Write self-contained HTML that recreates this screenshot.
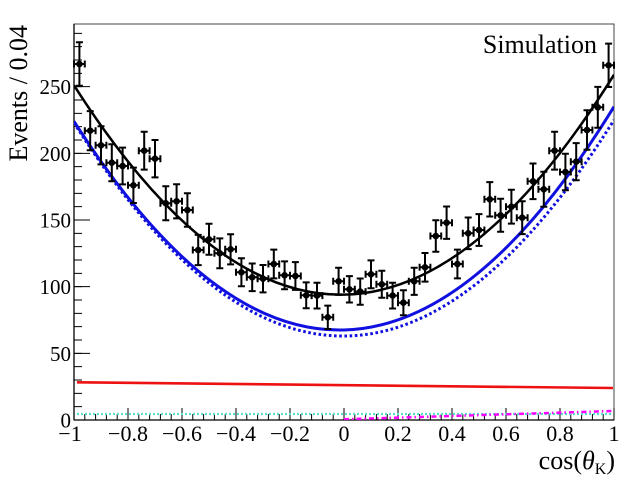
<!DOCTYPE html>
<html><head><meta charset="utf-8"><style>
html,body{margin:0;padding:0;background:#fff;}
svg{display:block;}
text{font-family:"Liberation Serif","Times New Roman",serif;fill:#000;}
</style></head><body>
<svg width="640" height="480" viewBox="0 0 640 480" xmlns="http://www.w3.org/2000/svg">
<rect width="640" height="480" fill="#fff"/>
<defs>
<clipPath id="fr"><rect x="74" y="24" width="540" height="396"/></clipPath>
<g id="m"><path d="M-5.4 0H5.4M-5.4-3.5V3.5M5.4-3.5V3.5"/><circle r="2.3"/></g>
</defs>
<rect x="74" y="24" width="540" height="396" fill="none" stroke="#444" stroke-width="1"/>
<line x1="74" y1="420" x2="614" y2="420" stroke="#000" stroke-width="1.3"/>
<line x1="74" y1="24" x2="74" y2="420" stroke="#000" stroke-width="1.3"/>
<line x1="73.5" y1="417" x2="615" y2="417" stroke="#000" stroke-width="6" stroke-dasharray="1 9.8"/>
<line x1="73.5" y1="414" x2="615" y2="414" stroke="#000" stroke-width="12" stroke-dasharray="1 53"/>
<line x1="78" y1="420.5" x2="78" y2="30" stroke="#000" stroke-width="8" stroke-dasharray="1 12.3333"/>
<line x1="82" y1="420.5" x2="82" y2="30" stroke="#000" stroke-width="16" stroke-dasharray="1 65.6667"/>
<g font-size="21" text-anchor="end">
<text x="71" y="427.5">0</text>
<text x="71" y="360.8">50</text>
<text x="71" y="294.2">100</text>
<text x="71" y="227.5">150</text>
<text x="71" y="160.8">200</text>
<text x="71" y="94.2">250</text>
</g>
<g font-size="22" text-anchor="middle">
<text x="70" y="441">−1</text>
<text x="128" y="441">−0.8</text>
<text x="182" y="441">−0.6</text>
<text x="236" y="441">−0.4</text>
<text x="290" y="441">−0.2</text>
<text x="344" y="441">0</text>
<text x="398" y="441">0.2</text>
<text x="452" y="441">0.4</text>
<text x="506" y="441">0.6</text>
<text x="560" y="441">0.8</text>
<text x="614" y="441">1</text>
</g>
<text transform="translate(27,25) rotate(-90)" text-anchor="end" font-size="26">Events / 0.04</text>
<text x="615" y="469" text-anchor="end" font-size="26">cos(<tspan font-style="italic">θ</tspan><tspan font-size="16" dy="5">K</tspan><tspan dy="-5">)</tspan></text>
<text x="597" y="53" text-anchor="end" font-size="26">Simulation</text>
<g clip-path="url(#fr)" fill="none">
<line x1="77" y1="414" x2="613" y2="414" stroke="#55e0cc" stroke-width="2.2" stroke-dasharray="2 2"/>
<line x1="344" y1="419.3" x2="613" y2="411" stroke="#ff00ff" stroke-width="2.5" stroke-dasharray="5 3 1.5 3"/>
<line x1="77" y1="382.3" x2="613" y2="388" stroke="#ee1111" stroke-width="2.6"/>
<path d="M74 122.7Q344 550.7 614 120" stroke="#1010e0" stroke-width="3" stroke-dasharray="2.6 2.6"/>
<path d="M74 121.3Q344 546 614 106.7" stroke="#1010e0" stroke-width="3"/>
<path d="M74 85.3Q344 509.3 614 74.7" stroke="#000" stroke-width="2.5"/>
</g>
<g stroke="#000" stroke-width="2" fill="#000">
<g transform="translate(79.4,64)"><path d="M0-21.8V21.8M-3.5-21.8H3.5M-3.5 21.8H3.5"/><use href="#m"/></g>
<g transform="translate(90.2,130.7)"><path d="M0-19.6V19.6M-3.5-19.6H3.5M-3.5 19.6H3.5"/><use href="#m"/></g>
<g transform="translate(101,145.3)"><path d="M0-19.1V19.1M-3.5-19.1H3.5M-3.5 19.1H3.5"/><use href="#m"/></g>
<g transform="translate(111.8,162.7)"><path d="M0-18.5V18.5M-3.5-18.5H3.5M-3.5 18.5H3.5"/><use href="#m"/></g>
<g transform="translate(122.6,166)"><path d="M0-18.4V18.4M-3.5-18.4H3.5M-3.5 18.4H3.5"/><use href="#m"/></g>
<g transform="translate(133.4,185.3)"><path d="M0-17.7V17.7M-3.5-17.7H3.5M-3.5 17.7H3.5"/><use href="#m"/></g>
<g transform="translate(144.2,150.7)"><path d="M0-18.9V18.9M-3.5-18.9H3.5M-3.5 18.9H3.5"/><use href="#m"/></g>
<g transform="translate(155,158.7)"><path d="M0-18.7V18.7M-3.5-18.7H3.5M-3.5 18.7H3.5"/><use href="#m"/></g>
<g transform="translate(165.8,203.3)"><path d="M0-17V17M-3.5-17H3.5M-3.5 17H3.5"/><use href="#m"/></g>
<g transform="translate(176.6,201.3)"><path d="M0-17.1V17.1M-3.5-17.1H3.5M-3.5 17.1H3.5"/><use href="#m"/></g>
<g transform="translate(187.4,210)"><path d="M0-16.7V16.7M-3.5-16.7H3.5M-3.5 16.7H3.5"/><use href="#m"/></g>
<g transform="translate(198.2,250)"><path d="M0-15.1V15.1M-3.5-15.1H3.5M-3.5 15.1H3.5"/><use href="#m"/></g>
<g transform="translate(209,239.3)"><path d="M0-15.5V15.5M-3.5-15.5H3.5M-3.5 15.5H3.5"/><use href="#m"/></g>
<g transform="translate(219.8,253.3)"><path d="M0-14.9V14.9M-3.5-14.9H3.5M-3.5 14.9H3.5"/><use href="#m"/></g>
<g transform="translate(230.6,249.3)"><path d="M0-15.1V15.1M-3.5-15.1H3.5M-3.5 15.1H3.5"/><use href="#m"/></g>
<g transform="translate(241.4,272.3)"><path d="M0-14V14M-3.5-14H3.5M-3.5 14H3.5"/><use href="#m"/></g>
<g transform="translate(252.2,277.3)"><path d="M0-13.8V13.8M-3.5-13.8H3.5M-3.5 13.8H3.5"/><use href="#m"/></g>
<g transform="translate(263,278.7)"><path d="M0-13.7V13.7M-3.5-13.7H3.5M-3.5 13.7H3.5"/><use href="#m"/></g>
<g transform="translate(273.8,264)"><path d="M0-14.4V14.4M-3.5-14.4H3.5M-3.5 14.4H3.5"/><use href="#m"/></g>
<g transform="translate(284.6,275.3)"><path d="M0-13.9V13.9M-3.5-13.9H3.5M-3.5 13.9H3.5"/><use href="#m"/></g>
<g transform="translate(295.4,276)"><path d="M0-13.9V13.9M-3.5-13.9H3.5M-3.5 13.9H3.5"/><use href="#m"/></g>
<g transform="translate(306.2,295.3)"><path d="M0-12.9V12.9M-3.5-12.9H3.5M-3.5 12.9H3.5"/><use href="#m"/></g>
<g transform="translate(317,295.6)"><path d="M0-12.9V12.9M-3.5-12.9H3.5M-3.5 12.9H3.5"/><use href="#m"/></g>
<g transform="translate(327.8,317.3)"><path d="M0-11.7V11.7M-3.5-11.7H3.5M-3.5 11.7H3.5"/><use href="#m"/></g>
<g transform="translate(338.6,281.3)"><path d="M0-13.6V13.6M-3.5-13.6H3.5M-3.5 13.6H3.5"/><use href="#m"/></g>
<g transform="translate(349.4,289.3)"><path d="M0-13.2V13.2M-3.5-13.2H3.5M-3.5 13.2H3.5"/><use href="#m"/></g>
<g transform="translate(360.2,291.6)"><path d="M0-13.1V13.1M-3.5-13.1H3.5M-3.5 13.1H3.5"/><use href="#m"/></g>
<g transform="translate(371,274.3)"><path d="M0-13.9V13.9M-3.5-13.9H3.5M-3.5 13.9H3.5"/><use href="#m"/></g>
<g transform="translate(381.8,284.3)"><path d="M0-13.5V13.5M-3.5-13.5H3.5M-3.5 13.5H3.5"/><use href="#m"/></g>
<g transform="translate(392.6,295.6)"><path d="M0-12.9V12.9M-3.5-12.9H3.5M-3.5 12.9H3.5"/><use href="#m"/></g>
<g transform="translate(403.4,302.7)"><path d="M0-12.5V12.5M-3.5-12.5H3.5M-3.5 12.5H3.5"/><use href="#m"/></g>
<g transform="translate(414.2,281.3)"><path d="M0-13.6V13.6M-3.5-13.6H3.5M-3.5 13.6H3.5"/><use href="#m"/></g>
<g transform="translate(425,267.3)"><path d="M0-14.3V14.3M-3.5-14.3H3.5M-3.5 14.3H3.5"/><use href="#m"/></g>
<g transform="translate(435.8,236)"><path d="M0-15.7V15.7M-3.5-15.7H3.5M-3.5 15.7H3.5"/><use href="#m"/></g>
<g transform="translate(446.6,222.7)"><path d="M0-16.2V16.2M-3.5-16.2H3.5M-3.5 16.2H3.5"/><use href="#m"/></g>
<g transform="translate(457.4,264)"><path d="M0-14.4V14.4M-3.5-14.4H3.5M-3.5 14.4H3.5"/><use href="#m"/></g>
<g transform="translate(468.2,233.3)"><path d="M0-15.8V15.8M-3.5-15.8H3.5M-3.5 15.8H3.5"/><use href="#m"/></g>
<g transform="translate(479,230)"><path d="M0-15.9V15.9M-3.5-15.9H3.5M-3.5 15.9H3.5"/><use href="#m"/></g>
<g transform="translate(489.8,199.3)"><path d="M0-17.2V17.2M-3.5-17.2H3.5M-3.5 17.2H3.5"/><use href="#m"/></g>
<g transform="translate(500.6,215.3)"><path d="M0-16.5V16.5M-3.5-16.5H3.5M-3.5 16.5H3.5"/><use href="#m"/></g>
<g transform="translate(511.4,206.7)"><path d="M0-16.9V16.9M-3.5-16.9H3.5M-3.5 16.9H3.5"/><use href="#m"/></g>
<g transform="translate(522.2,217.7)"><path d="M0-16.4V16.4M-3.5-16.4H3.5M-3.5 16.4H3.5"/><use href="#m"/></g>
<g transform="translate(533,181.3)"><path d="M0-17.8V17.8M-3.5-17.8H3.5M-3.5 17.8H3.5"/><use href="#m"/></g>
<g transform="translate(543.8,189.3)"><path d="M0-17.5V17.5M-3.5-17.5H3.5M-3.5 17.5H3.5"/><use href="#m"/></g>
<g transform="translate(554.6,150.7)"><path d="M0-18.9V18.9M-3.5-18.9H3.5M-3.5 18.9H3.5"/><use href="#m"/></g>
<g transform="translate(565.4,172)"><path d="M0-18.2V18.2M-3.5-18.2H3.5M-3.5 18.2H3.5"/><use href="#m"/></g>
<g transform="translate(576.2,161.7)"><path d="M0-18.6V18.6M-3.5-18.6H3.5M-3.5 18.6H3.5"/><use href="#m"/></g>
<g transform="translate(587,130)"><path d="M0-19.7V19.7M-3.5-19.7H3.5M-3.5 19.7H3.5"/><use href="#m"/></g>
<g transform="translate(597.8,107.3)"><path d="M0-20.4V20.4M-3.5-20.4H3.5M-3.5 20.4H3.5"/><use href="#m"/></g>
<g transform="translate(608.6,65.3)"><path d="M0-21.7V21.7M-3.5-21.7H3.5M-3.5 21.7H3.5"/><use href="#m"/></g>
</g>
</svg>
</body></html>
